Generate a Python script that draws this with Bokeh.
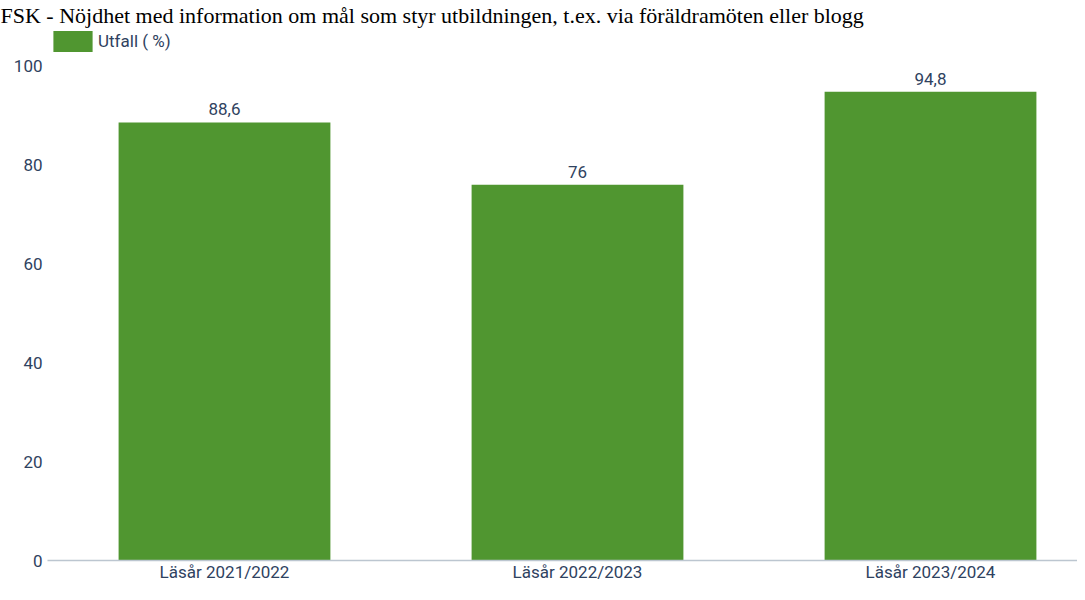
from bokeh.plotting import figure
from bokeh.models import (Range1d, FixedTicker, LabelSet, ColumnDataSource,
                          Legend, LegendItem)
from bokeh.core.properties import value
from bokeh.embed import file_html
from bokeh.resources import INLINE

# ---- data ----
title_text = "FSK - Nöjdhet med information om mål som styr utbildningen, t.ex. via föräldramöten eller blogg"
categories = ["Läsår 2021/2022", "Läsår 2022/2023", "Läsår 2023/2024"]
values = [88.6, 76, 94.8]
series_name = "Utfall ( %)"
y_ticks = [0, 20, 40, 60, 80, 100]

# ---- style ----
TEXT = "#2f4260"
GREEN = "#509630"
AXIS = "#bcc6d0"
FONT = "Roboto"
FS = "17px"

idx = list(range(len(categories)))
labels = [f"{v:g}".replace(".", ",") for v in values]
src = ColumnDataSource(dict(x=idx, top=values, label=labels))

x_start, x_end = -0.5014, 2.4164
y_end = 107.8   # headroom above 100 so that the legend sits inside the frame
p = figure(width=1077, height=584, output_backend="svg", toolbar_location=None,
           x_range=Range1d(x_start, x_end), y_range=Range1d(0, y_end),
           min_border_left=47, min_border_right=0, min_border_top=0,
           min_border_bottom=24, background_fill_color="white",
           border_fill_color="white")

# title
p.title.text = title_text
p.title.text_font = "Liberation Serif"
p.title.text_font_size = "22px"
p.title.text_font_style = "normal"
p.title.text_color = "#000000"
p.title.align = "left"
p.title.offset = -47
p.title.standoff = 0

r = p.vbar(x="x", top="top", width=0.6, source=src, fill_color=GREEN, line_color=None)

p.add_layout(LabelSet(x="x", y="top", text="label", source=src, y_offset=7,
                      text_align="center", text_baseline="alphabetic",
                      text_font=value(FONT), text_font_size=FS, text_color=TEXT))

legend = Legend(items=[LegendItem(label=series_name, renderers=[r])],
                location="top_left", orientation="horizontal",
                glyph_width=49, glyph_height=26, label_height=26, label_standoff=1,
                padding=0, margin=1, spacing=0, border_line_color=None,
                background_fill_alpha=0, label_text_font=FONT,
                label_text_font_size=FS, label_text_color=TEXT)
p.add_layout(legend)

# x axis
p.xaxis.ticker = FixedTicker(ticks=idx)
p.xaxis.major_label_overrides = {i: c for i, c in zip(idx, categories)}
p.xaxis.axis_line_color = AXIS
p.xaxis.axis_line_width = 1.5
p.xaxis.major_tick_line_color = None
p.xaxis.minor_tick_line_color = None
p.xaxis.major_tick_out = 0
p.xaxis.major_tick_in = 0
p.xaxis.minor_tick_out = 0
p.xaxis.major_label_standoff = 1
p.xaxis.major_label_text_font = FONT
p.xaxis.major_label_text_font_size = FS
p.xaxis.major_label_text_color = TEXT

# y axis
p.yaxis.ticker = FixedTicker(ticks=y_ticks)
p.yaxis.axis_line_color = None
p.yaxis.major_tick_line_color = None
p.yaxis.minor_tick_line_color = None
p.yaxis.major_tick_out = 0
p.yaxis.major_tick_in = 0
p.yaxis.minor_tick_out = 0
p.yaxis.major_label_standoff = 5
p.yaxis.major_label_text_font = FONT
p.yaxis.major_label_text_font_size = FS
p.yaxis.major_label_text_color = TEXT

p.grid.visible = False
p.outline_line_color = None

open("out.html", "w").write(file_html(p, INLINE))
